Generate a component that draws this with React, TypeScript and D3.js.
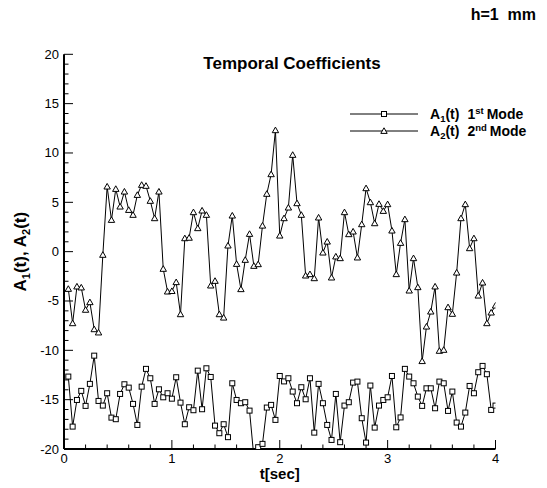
import React from "react";
import * as d3 from "d3";

// Sampling interval of the temporal coefficients (seconds)
const DT = 0.04;

// First-mode coefficient A1(t)
const a1Values = [
  -12.66, -17.73, -15.03, -14.11, -15.63, -13.4, -10.54, -15.13, -15.6, -14.35,
  -16.82, -16.98, -14.42, -13.44, -13.78, -15.43, -17.56, -13.68, -11.88, -12.83,
  -15.43, -13.95, -14.76, -14.35, -14.9, -12.73, -15.3, -17.49, -15.77, -16.07,
  -12.06, -15.97, -11.82, -12.7, -17.63, -18.4, -17.49, -18.8, -13.34, -15.03,
  -15.36, -15.26, -16.11, -20.8, -19.82, -19.48, -15.8, -15.53, -17.05, -12.6,
  -13.15, -12.83, -14.18, -15.36, -13.74, -14.96, -12.83, -18.34, -13.4, -15.36,
  -17.56, -19.08, -14.42, -19.31, -15.6, -15.26, -13.27, -13.17, -16.88, -19.35,
  -13.57, -17.83, -15.6, -15.03, -14.76, -12.6, -17.8, -16.8, -11.88, -12.66,
  -13.34, -14.69, -15.63, -13.85, -13.85, -15.87, -13.17, -13.34, -16.14, -14.18,
  -17.32, -17.73, -16.31, -13.61, -14.35, -12.22, -11.58, -12.42, -16.04, -15.6,
];

// Second-mode coefficient A2(t)
const a2Values = [
  -3.78, -7.26, -3.54, -3.64, -5.9, -5.13, -7.87, -8.2, -0.33, 6.59,
  3.21, 6.35, 4.56, 6.08, 4.22, 3.72, 5.74, 6.76, 6.66, 5.14,
  3.38, 6.08, -1.75, -4.05, -4.0, -3.1, -6.35, 1.35, 1.4, 3.99,
  2.37, 4.16, 3.72, -3.44, -2.97, -6.35, -6.69, 0.61, 3.65, -1.25,
  -3.81, -0.84, 1.79, -1.45, -1.28, 2.63, 5.85, 7.84, 12.3, 1.62,
  3.38, 4.46, 9.8, 4.9, 3.72, -2.43, -2.29, -2.7, 3.45, -0.1,
  1.01, -2.63, -0.5, -0.67, 3.99, 1.76, 2.03, -0.6, 2.77, 6.42,
  5.0, 2.87, 4.83, 4.12, 4.8, 2.13, -2.29, 0.88, 3.28, -3.95,
  -0.67, -3.61, -11.1, -7.6, -6.08, -3.54, -10.06, -9.96, -5.64, -6.31,
  -2.13, 3.38, 4.8, 0.34, 1.35, -4.46, -3.14, -7.26, -6.18, -5.47,
];

const xTicks = [0, 1, 2, 3, 4];
const yTicks = [-20, -15, -10, -5, 0, 5, 10, 15, 20];

const W = 547;
const H = 488;
const FONT = "'Liberation Sans', Arial, Helvetica, sans-serif";

const x = d3.scaleLinear().domain([0, 4]).range([64, 495.5]);
const y = d3.scaleLinear().domain([-20, 20]).range([449, 54.3]);

const times = a1Values.map((_, i) => (i + 1) * DT);

const line = d3
  .line<number>()
  .x((_, i) => x(times[i]))
  .y((v) => y(v));

const xMinor = d3.range(0, 4.0001, 0.2);
const yMinor = d3.range(-20, 20.0001, 1);

function Square({ cx, cy }: { cx: number; cy: number }) {
  return <rect x={cx - 2.5} y={cy - 2.5} width={5} height={5} fill="white" stroke="black" strokeWidth={1} />;
}

function Triangle({ cx, cy }: { cx: number; cy: number }) {
  const s = 3.2;
  return (
    <path
      d={`M${cx},${cy - s} L${cx + s},${cy + s * 0.75} L${cx - s},${cy + s * 0.75} Z`}
      fill="white"
      stroke="black"
      strokeWidth={1}
    />
  );
}

function LegendLabel({ xPos, yPos, sub, ord, sup }: { xPos: number; yPos: number; sub: string; ord: string; sup: string }) {
  return (
    <text x={xPos} y={yPos} fontSize={14} fontWeight="bold">
      A<tspan fontSize={9.5} dy={3}>{sub}</tspan>
      <tspan dy={-3}>(t)</tspan>
      <tspan dx={8}>{ord}</tspan>
      <tspan fontSize={9.5} dy={-5.5}>{sup}</tspan>
      <tspan dy={5.5} dx={3}>Mode</tspan>
    </text>
  );
}

export default function App() {
  const [x0, x1] = x.range();
  const [y0, y1] = y.range();
  return (
    <svg
      width={W}
      height={H}
      style={{ position: "absolute", left: 0, top: 0, background: "white" }}
      fontFamily={FONT}
    >
      <defs>
        <clipPath id="plotArea">
          <rect x={x0} y={y1} width={x1 - x0} height={y0 - y1} />
        </clipPath>
      </defs>

      <text x={536} y={20} textAnchor="end" fontSize={16} fontWeight="bold" style={{ whiteSpace: "pre" }}>
        {"h=1  mm"}
      </text>

      <text x={292} y={69} textAnchor="middle" fontSize={17} fontWeight="bold">
        Temporal Coefficients
      </text>

      {/* axes */}
      <line x1={x0} x2={x0} y1={y0} y2={y1} stroke="black" strokeWidth={2} />
      <line x1={x0} x2={x1} y1={y0} y2={y0} stroke="black" strokeWidth={2} />

      {xMinor.map((t) => {
        const major = Math.abs(t - Math.round(t)) < 1e-6;
        return (
          <line key={`xm${t}`} x1={x(t)} x2={x(t)} y1={y0} y2={y0 - (major ? 9 : 4.5)} stroke="black" strokeWidth={1} />
        );
      })}
      {yMinor.map((v) => {
        const major = Math.abs(v % 5) < 1e-6;
        return (
          <line key={`ym${v}`} x1={x0} x2={x0 + (major ? 9 : 4.5)} y1={y(v)} y2={y(v)} stroke="black" strokeWidth={1} />
        );
      })}

      {xTicks.map((t) => (
        <text key={`xt${t}`} x={x(t)} y={y0 + 14} textAnchor="middle" fontSize={13}>
          {t}
        </text>
      ))}
      {yTicks.map((v) => (
        <text key={`yt${v}`} x={x0 - 5} y={y(v) + 4.5} textAnchor="end" fontSize={13}>
          {v}
        </text>
      ))}

      <text x={x(2)} y={y0 + 30} textAnchor="middle" fontSize={15} fontWeight="bold">
        t[sec]
      </text>

      <text
        transform={`translate(26, ${y(0)}) rotate(-90)`}
        textAnchor="middle"
        fontSize={17}
        fontWeight="bold"
      >
        A<tspan fontSize={11} dy={4}>1</tspan>
        <tspan dy={-4}>(t), A</tspan>
        <tspan fontSize={11} dy={4}>2</tspan>
        <tspan dy={-4}>(t)</tspan>
      </text>

      <g clipPath="url(#plotArea)">
        <path d={line(a1Values) ?? ""} fill="none" stroke="black" strokeWidth={1} />
        <path d={line(a2Values) ?? ""} fill="none" stroke="black" strokeWidth={1} />
        {a1Values.map((v, i) => (
          <Square key={`s${i}`} cx={x(times[i])} cy={y(v)} />
        ))}
        {a2Values.map((v, i) => (
          <Triangle key={`t${i}`} cx={x(times[i])} cy={y(v)} />
        ))}
      </g>

      {/* legend */}
      <g>
        <line x1={350} x2={418} y1={114} y2={114} stroke="black" strokeWidth={1} />
        <Square cx={384} cy={114} />
        <LegendLabel xPos={430} yPos={119} sub="1" ord="1" sup="st" />
        <line x1={350} x2={418} y1={131} y2={131} stroke="black" strokeWidth={1} />
        <Triangle cx={384} cy={131} />
        <LegendLabel xPos={430} yPos={136} sub="2" ord="2" sup="nd" />
      </g>
    </svg>
  );
}
